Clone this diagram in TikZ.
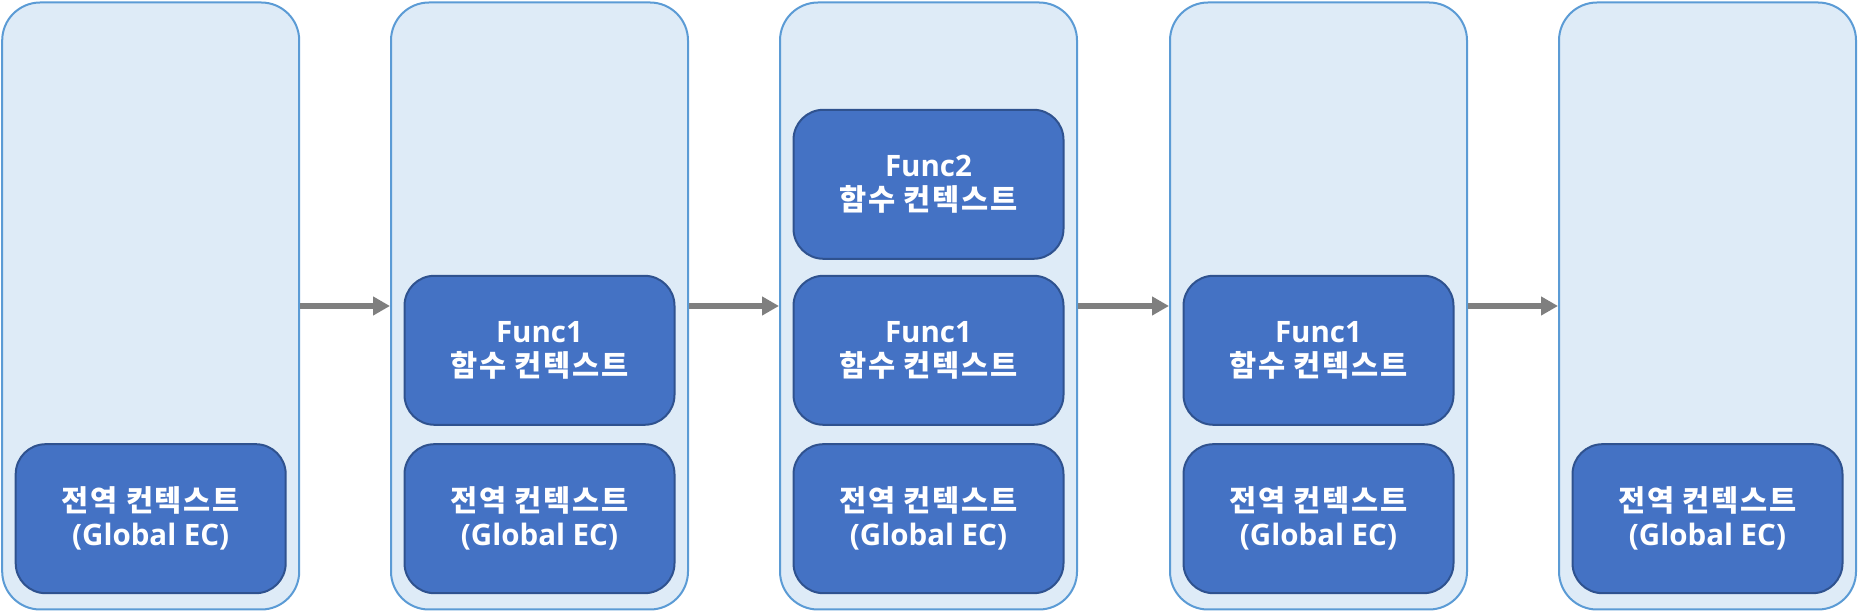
\documentclass[tikz,border=0pt]{standalone}
\usepackage{fontspec}
\setmainfont{Open Sans}
\newfontfamily\kr{Noto Sans CJK KR}
\usetikzlibrary{arrows.meta}
\definecolor{outerfill}{HTML}{DEEBF7}
\definecolor{outerdraw}{HTML}{5B9BD5}
\definecolor{innerfill}{HTML}{4472C4}
\definecolor{innerdraw}{HTML}{2F528F}
\definecolor{arrowgray}{HTML}{7F7F7F}
\newcommand{\krline}[1]{{\kr\bfseries\addfontfeature{LetterSpace=6}#1}}
\begin{document}
\begin{tikzpicture}[x=1pt,y=1pt,
  column/.style={draw=outerdraw,fill=outerfill,line width=2pt,rounded corners=38pt,
    minimum width=297pt,minimum height=607pt,inner sep=0pt},
  ctx/.style={draw=innerdraw,fill=innerfill,line width=2pt,rounded corners=30pt,
    minimum width=270pt,minimum height=149pt,inner sep=0pt,text=white,align=center,
    font=\fontsize{29.5}{34}\selectfont\bfseries},
  flow/.style={draw=arrowgray,line width=6pt,-{Triangle[length=17pt,width=18pt]}}]
\useasboundingbox (0,0) rectangle (1859,612);
\foreach \i/\cx in {1/150.7,2/539.5,3/928.5,4/1318.5,5/1707.5}{
  \node[column] (c\i) at (\cx,306) {};
}
\node[ctx] (g1) at (150.7,93.3) {\krline{전역 컨텍스트}\\(Global EC)};
\node[ctx] (g2) at (539.5,93.3) {\krline{전역 컨텍스트}\\(Global EC)};
\node[ctx] (f21) at (539.5,261.7) {Func1\\\krline{함수 컨텍스트}};
\node[ctx] (g3) at (928.5,93.3) {\krline{전역 컨텍스트}\\(Global EC)};
\node[ctx] (f31) at (928.5,261.7) {Func1\\\krline{함수 컨텍스트}};
\node[ctx] (f32) at (928.5,427.7) {Func2\\\krline{함수 컨텍스트}};
\node[ctx] (g4) at (1318.5,93.3) {\krline{전역 컨텍스트}\\(Global EC)};
\node[ctx] (f41) at (1318.5,261.7) {Func1\\\krline{함수 컨텍스트}};
\node[ctx] (g5) at (1707.5,93.3) {\krline{전역 컨텍스트}\\(Global EC)};
\draw[flow] (c1.east) -- (c2.west);
\draw[flow] (c2.east) -- (c3.west);
\draw[flow] (c3.east) -- (c4.west);
\draw[flow] (c4.east) -- (c5.west);
\end{tikzpicture}
\end{document}
